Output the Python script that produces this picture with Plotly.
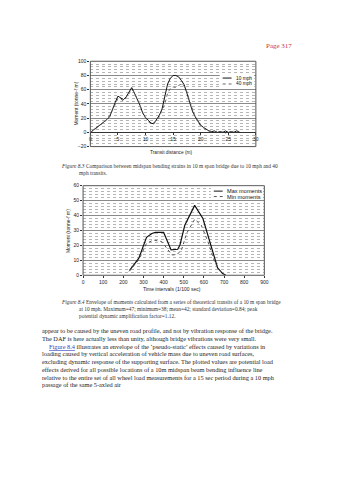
import plotly.graph_objects as go

# ---------------- data ----------------
dist_m = [0, 0.5, 1, 1.5, 2, 2.5, 3, 3.5, 4, 4.5, 5, 5.5, 6, 6.5, 7, 7.5, 8, 8.5, 9, 9.5,
          10, 10.5, 11, 11.5, 12, 12.5, 13, 13.5, 14, 14.5, 15, 15.5, 16, 16.5, 17, 17.5,
          18, 18.5, 19, 19.5, 20, 20.5, 21, 21.5, 22, 22.5, 23, 23.5, 24, 24.5, 25, 25.5,
          26, 26.5, 27]
moment_10mph = [0, 3, 6, 8, 11, 15, 18, 22, 33, 42, 51, 49, 46, 50, 57, 63, 55, 47, 38, 27,
                21, 17, 13, 12, 18, 24, 33, 50, 68, 76, 80, 80, 78, 73, 67, 55,
                42, 30, 22, 15, 10, 7, 4, 2, 1, 2, 0, 1, 0, 2, 0, 1,
                0, 2, 1]
moment_40mph = [0, 2, 5, 9, 12, 14, 19, 24, 31, 40, 48, 47, 44, 49, 55, 60, 56, 46, 36, 28,
                20, 15, 12, 14, 16, 22, 30, 40, 55, 62, 64, 63, 66, 68, 65, 57,
                44, 32, 22, 14, 9, 6, 3, 2, 1, 0, 2, 0, 1, -1, 1, 0,
                2, 0, 1]

time_max = [231, 277, 315, 342, 359, 400, 416, 437, 470, 481, 505, 530, 554, 595, 611, 641, 668, 693, 709]
max_moments = [3.3, 11.5, 25.4, 28, 28.7, 28.7, 23.6, 17, 17.4, 20.3, 33.5, 40, 46.8, 38, 31, 18, 4.9, 1.1, 0]
time_min = [228, 277, 315, 350, 391, 416, 440, 465, 489, 514, 554, 587, 620, 652, 677, 701]
min_moments = [2.6, 10.4, 21.4, 23.6, 22.5, 18, 13.7, 13.7, 17, 28, 37.5, 33.5, 22.5, 9.3, 3.3, 0.4]

ticks_dist = [0, 5, 10, 15, 20, 25, 30]
ticks_time = [0, 100, 200, 300, 400, 500, 600, 700, 800, 900]

caption_83 = ["<i>Figure 8.3</i> Comparison between midspan bending strains in 10 m span bridge due to 10 mph and 40",
              "mph transits."]
caption_84 = ["<i>Figure 8.4</i> Envelope of moments calculated from a series of theoretical transits of a 10 m span bridge",
              "at 10 mph. Maximum=47; minimum=38; mean=42; standard deviation=0.84; peak",
              "potential dynamic amplification factor=1.12."]
body = ["appear to be caused by the uneven road profile, and not by vibration response of the bridge.",
        "The DAF is here actually less than unity, although bridge vibrations were very small.",
        "<span style='color:#3344bb;text-decoration:underline'>Figure 8.4</span> illustrates an envelope of the ‘pseudo-static’ effects caused by variations in",
        "loading caused by vertical acceleration of vehicle mass due to uneven road surfaces,",
        "excluding dynamic response of the supporting surface. The plotted values are potential load",
        "effects derived for all possible locations of a 10m midspan beam bending influence line",
        "relative to the entire set of all wheel load measurements for a 15 sec period during a 10 mph",
        "passage of the same 5-axled air"]

# ---------------- layout helpers ----------------
W, H = 338, 480
def X(p): return p / W
def Y(p): return 1 - p / H

SANS = "Liberation Sans, Arial, sans-serif"
SERIF = "Liberation Serif, Times New Roman, serif"

fig = go.Figure()
fig.add_trace(go.Scatter(x=dist_m, y=moment_10mph, mode="lines", name="10 mph",
                         line=dict(color="#111111", width=1), xaxis="x", yaxis="y"))
fig.add_trace(go.Scatter(x=dist_m, y=moment_40mph, mode="lines", name="40 mph",
                         line=dict(color="#666666", width=1, dash="dot"), xaxis="x", yaxis="y"))
fig.add_trace(go.Scatter(x=time_max, y=max_moments, mode="lines", name="Max moments",
                         line=dict(color="#111111", width=1.2), xaxis="x2", yaxis="y2"))
fig.add_trace(go.Scatter(x=time_min, y=min_moments, mode="lines", name="Min moments",
                         line=dict(color="#555555", width=1, dash="dot"), xaxis="x2", yaxis="y2"))

tickfont = dict(family=SANS, size=5, color="#222")
grid_major = dict(showgrid=True, gridcolor="#8a8a8a", gridwidth=0.8)
grid_minor = dict(showgrid=True, griddash="dot", gridcolor="#b5b5b5", gridwidth=0.5)

fig.update_layout(
    width=W, height=H, margin=dict(l=0, r=0, t=0, b=0),
    paper_bgcolor="white", plot_bgcolor="white", showlegend=False,
    xaxis=dict(domain=[X(90.7), X(258.7)], range=[0, 30], anchor="free", position=Y(131),
               tickvals=ticks_dist, ticks="outside", ticklen=2, tickcolor="#333",
               showgrid=False, zeroline=False, showline=True, linecolor="#333", linewidth=1,
               tickfont=tickfont),
    yaxis=dict(domain=[Y(145.4), Y(59)], range=[-20, 100], tick0=0, dtick=20, anchor="x",
               ticks="outside", ticklen=2, tickcolor="#333", zeroline=False,
               minor=dict(dtick=4, **grid_minor), tickfont=tickfont, **grid_major),
    xaxis2=dict(domain=[X(83.3), X(267.3)], range=[0, 900], anchor="y2",
                tickvals=ticks_time, ticks="outside", ticklen=2, tickcolor="#333",
                showgrid=False, zeroline=False, tickfont=tickfont),
    yaxis2=dict(domain=[Y(275.7), Y(185)], range=[0, 60], dtick=10, anchor="x2",
                ticks="outside", ticklen=2, tickcolor="#333", zeroline=False,
                minor=dict(dtick=2, **grid_minor), tickfont=tickfont, **grid_major),
)

shapes = []
# frames
for xr, yr in (("x domain", "y domain"), ("x2 domain", "y2 domain")):
    shapes.append(dict(type="rect", xref=xr, yref=yr, x0=0, x1=1, y0=0, y1=1,
                       line=dict(color="#555", width=1), layer="above"))
# legend backgrounds
shapes.append(dict(type="rect", xref="paper", yref="paper", x0=X(222), x1=X(257), y0=Y(86), y1=Y(72),
                   fillcolor="white", line=dict(width=0), layer="above"))
shapes.append(dict(type="rect", xref="paper", yref="paper", x0=X(213), x1=X(265), y0=Y(199), y1=Y(186),
                   fillcolor="white", line=dict(width=0), layer="above"))
# legend samples
legend_items = [
    (225, 234, 76, "#111", "solid", "10 mph", 236, 4.8),
    (225, 234, 82, "#666", "dot", "40 mph", 236, 4.8),
    (216, 225, 190.5, "#111", "solid", "Max moments", 227, 5.6),
    (216, 225, 196, "#555", "dot", "Min moments", 227, 5.6),
]
annotations = []
for x0, x1, yy, col, dash, label, tx, fs in legend_items:
    shapes.append(dict(type="line", xref="paper", yref="paper", x0=X(x0), x1=X(x1), y0=Y(yy), y1=Y(yy),
                       line=dict(color=col, width=1, dash=dash), layer="above"))
    annotations.append(dict(text=label, xref="paper", yref="paper", x=X(tx), y=Y(yy),
                            xanchor="left", yanchor="middle", showarrow=False,
                            font=dict(family=SANS, size=fs, color="#111")))

def ann(text, x, y, size, family, color="#222", xanchor="left", angle=0):
    annotations.append(dict(text=text, xref="paper", yref="paper", x=X(x), y=Y(y),
                            xanchor=xanchor, yanchor="middle", showarrow=False, textangle=angle,
                            font=dict(family=family, size=size, color=color)))

# page number
ann("Page 317", 297.7, 44, 7, SERIF, color="#cc3344", xanchor="right")
# axis titles
ann("Moment (tonne-f m)", 76, 102, 5, SANS, xanchor="center", angle=-90)
ann("Transit distance (m)", 172.7, 151, 4.8, SANS, xanchor="center")
ann("Moment (tonne-f m)", 68, 231, 5, SANS, xanchor="center", angle=-90)
ann("Time intervals (1/100 sec)", 173.3, 289.5, 5, SANS, xanchor="center")
# captions
ann(caption_83[0], 59.3, 165.5, 5.4, SERIF, color="#333")
ann(caption_83[1], 76.7, 172.5, 5.4, SERIF, color="#333")
for i, line in enumerate(caption_84):
    ann(line, 59.3 if i == 0 else 76.7, 302.7 + i * 7.3, 5.4, SERIF, color="#333")
# body text
for i, line in enumerate(body):
    ann(line, 46.7 if i == 2 else 40, 331.7 + i * 7.85, 6.3, SERIF, color="#222")

fig.update_layout(shapes=shapes, annotations=annotations)
fig.write_html("out.html")
